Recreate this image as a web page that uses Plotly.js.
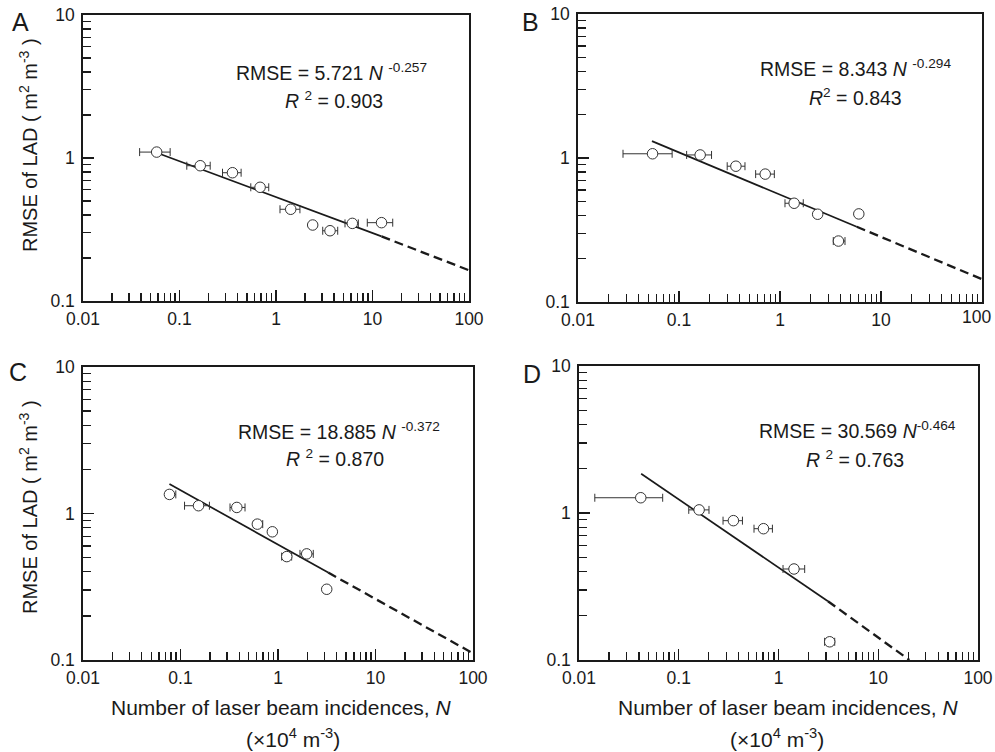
<!DOCTYPE html>
<html>
<head>
<meta charset="utf-8">
<script src="https://cdn.plot.ly/plotly-3.0.1.min.js"></script>
<style>html,body{margin:0;padding:0;background:#fff;}#chart{width:995px;height:752px;}</style>
</head>
<body>
<div id="chart"></div>
<script>
// ---- Panel A ----
var xA   = [0.058, 0.164, 0.354, 0.684, 1.42, 2.40, 3.63, 6.18, 12.4];
var yA   = [1.10, 0.883, 0.789, 0.624, 0.438, 0.340, 0.310, 0.349, 0.353];
var xloA = [0.0386, 0.119, 0.279, 0.548, 1.10, null, 3.05, 5.19, 8.83];
var xhiA = [0.080, 0.208, 0.435, 0.841, 1.77, null, 4.36, 7.13, 16.2];
var fitXA = [0.06, 12.4],  fitYA = [1.08, 0.283];
var extXA = [12.4, 100],   extYA = [0.283, 0.164];

// ---- Panel B ----
var xB   = [0.0547, 0.162, 0.366, 0.714, 1.38, 2.36, 3.79, 6.03];
var yB   = [1.07, 1.05, 0.877, 0.773, 0.485, 0.407, 0.265, 0.409];
var xloB = [0.0279, 0.119, 0.30, 0.574, 1.12, null, 3.37, null];
var xhiB = [0.0855, 0.210, 0.45, 0.879, 1.70, null, 4.40, null];
var fitXB = [0.054, 5.75], fitYB = [1.31, 0.333];
var extXB = [5.75, 100],   extYB = [0.333, 0.144];

// ---- Panel C ----
var xC   = [0.077, 0.153, 0.378, 0.614, 0.875, 1.23, 1.97, 3.16];
var yC   = [1.35, 1.13, 1.10, 0.846, 0.750, 0.508, 0.530, 0.304];
var xloC = [0.0708, 0.110, 0.322, 0.559, null, 1.09, 1.68, null];
var xhiC = [0.0895, 0.198, 0.459, 0.697, null, 1.38, 2.30, null];
var fitXC = [0.077, 3.27], fitYC = [1.59, 0.395];
var extXC = [3.27, 100],   extYC = [0.395, 0.111];

// ---- Panel D ----
var xD   = [0.0416, 0.160, 0.353, 0.707, 1.43, 3.26];
var yD   = [1.27, 1.05, 0.887, 0.782, 0.416, 0.133];
var xloD = [0.0144, 0.126, 0.278, 0.568, 1.11, 2.90];
var xhiD = [0.069, 0.201, 0.435, 0.869, 1.83, 3.66];
var fitXD = [0.042, 3.13], fitYD = [1.85, 0.251];
var extXD = [3.13, 20.5],  extYD = [0.251, 0.1];

// ---- Texts ----
var panelLabels = ['A', 'B', 'C', 'D'];
var eqTexts = [
  'RMSE = 5.721 <i>N</i> <sup>-0.257</sup>',
  'RMSE = 8.343 <i>N</i> <sup>-0.294</sup>',
  'RMSE = 18.885 <i>N</i> <sup>-0.372</sup>',
  'RMSE = 30.569 <i>N</i><sup>-0.464</sup>'
];
var r2Texts = [
  '<i>R</i> <sup>2</sup> = 0.903',
  '<i>R</i><sup>2</sup> = 0.843',
  '<i>R</i> <sup>2</sup> = 0.870',
  '<i>R</i> <sup>2</sup> = 0.763'
];
var yTitle = 'RMSE of LAD ( m<sup>2</sup> m<sup>-3</sup> )';
var xTitle1 = 'Number of laser beam incidences, <i>N</i>';
var xTitle2 = '(×10<sup>4</sup> m<sup>-3</sup>)';

var xTickVals = [0.01, 0.1, 1, 10, 100];
var xTickText = ['0.01', '0.1', '1', '10', '100'];
// panel B: its last label sits at the page edge, so it is drawn as a separate text
var xTickTextB = ['0.01', '0.1', '1', '10', ''];
var lastTickB = '100';
var yTickVals = [0.1, 1, 10];
var yTickText = ['0.1', '1', '10'];

var FONT = 'Liberation Sans, Arial, sans-serif';
var INK = '#1a1a1a';
var TICKSIZE = 17.5;

function minorVals(lo, hi) {
  var v = [];
  for (var d = lo; d < hi; d++) {
    for (var k = 2; k <= 9; k++) v.push(k * Math.pow(10, d));
  }
  return v;
}

function errPlus(x, hi) { return x.map(function (v, i) { return hi[i] == null ? NaN : hi[i] - v; }); }
function errMinus(x, lo) { return x.map(function (v, i) { return lo[i] == null ? NaN : v - lo[i]; }); }

function panelTraces(x, y, lo, hi, fx, fy, ex, ey, xa, ya) {
  return [
    {
      x: fx, y: fy, xaxis: xa, yaxis: ya, mode: 'lines', type: 'scatter',
      line: {color: INK, width: 1.7}, hoverinfo: 'skip'
    },
    {
      x: ex, y: ey, xaxis: xa, yaxis: ya, mode: 'lines', type: 'scatter',
      line: {color: INK, width: 2.3, dash: '9px,5px'}, hoverinfo: 'skip'
    },
    {
      x: x, y: y, xaxis: xa, yaxis: ya, mode: 'markers', type: 'scatter',
      marker: {symbol: 'circle', size: 10.5, color: '#ffffff', line: {color: '#333', width: 1}},
      error_x: {type: 'data', symmetric: false, array: errPlus(x, hi), arrayminus: errMinus(x, lo),
                color: '#333', thickness: 1, width: 4}
    }
  ];
}

var data = [].concat(
  panelTraces(xA, yA, xloA, xhiA, fitXA, fitYA, extXA, extYA, 'x', 'y'),
  panelTraces(xB, yB, xloB, xhiB, fitXB, fitYB, extXB, extYB, 'x2', 'y2'),
  panelTraces(xC, yC, xloC, xhiC, fitXC, fitYC, extXC, extYC, 'x3', 'y3'),
  panelTraces(xD, yD, xloD, xhiD, fitXD, fitYD, extXD, extYD, 'x4', 'y4')
);

function xAxis(domain, anchor, ticktext) {
  return {
    type: 'log', range: [-2, 2], domain: domain, anchor: anchor,
    showline: true, linecolor: INK, linewidth: 1.7, mirror: true,
    ticks: 'inside', ticklen: 11, tickwidth: 1.3, tickcolor: INK,
    tickmode: 'array', tickvals: xTickVals, ticktext: ticktext || xTickText,
    tickfont: {family: FONT, size: TICKSIZE, color: INK}, ticklabelstandoff: 1,
    showgrid: false, zeroline: false,
    minor: {tickmode: 'array', tickvals: minorVals(-2, 2), ticks: 'inside', ticklen: 8,
            tickwidth: 1.3, tickcolor: INK, showgrid: false}
  };
}
function yAxis(domain, anchor) {
  return {
    type: 'log', range: [-1, 1], domain: domain, anchor: anchor,
    showline: true, linecolor: INK, linewidth: 1.7, mirror: true,
    ticks: 'inside', ticklen: 11, tickwidth: 1.3, tickcolor: INK,
    tickmode: 'array', tickvals: yTickVals, ticktext: yTickText,
    tickfont: {family: FONT, size: TICKSIZE, color: INK}, ticklabelstandoff: 3,
    showgrid: false, zeroline: false,
    minor: {tickmode: 'array', tickvals: minorVals(-1, 1), ticks: 'inside', ticklen: 8,
            tickwidth: 1.3, tickcolor: INK, showgrid: false}
  };
}

var W = 995, H = 752;
function px(v) { return v / W; }
function py(v) { return 1 - v / H; }

function ann(text, x, y, size, extra) {
  var a = {text: text, x: px(x), y: py(y), xref: 'paper', yref: 'paper',
           showarrow: false, xanchor: 'center', yanchor: 'middle',
           font: {family: FONT, size: size, color: INK}};
  if (extra) for (var k in extra) a[k] = extra[k];
  return a;
}

var annotations = [
  ann(panelLabels[0], 20, 22, 25),
  ann(panelLabels[1], 530, 22, 25),
  ann(panelLabels[2], 18, 372, 25),
  ann(panelLabels[3], 532, 374, 25),
  ann(eqTexts[0], 331, 72, 19.5),
  ann(r2Texts[0], 334, 100, 19.5),
  ann(eqTexts[1], 855, 68, 19.5),
  ann(r2Texts[1], 855, 97, 19.5),
  ann(eqTexts[2], 339, 431, 19.5),
  ann(r2Texts[2], 335, 458, 19.5),
  ann(eqTexts[3], 857, 430, 19.5),
  ann(r2Texts[3], 855, 459, 19.5),
  ann(yTitle, 28, 145, 20, {textangle: -90}),
  ann(yTitle, 28, 507, 20, {textangle: -90}),
  ann(xTitle1, 281, 707, 21),
  ann(xTitle2, 293, 738, 21),
  ann(xTitle1, 788, 707, 21),
  ann(xTitle2, 777, 738, 21),
  ann(lastTickB, 976, 317, TICKSIZE)
];

var layout = {
  width: W, height: H,
  margin: {l: 0, r: 0, t: 0, b: 0},
  paper_bgcolor: '#ffffff', plot_bgcolor: '#ffffff',
  showlegend: false,
  font: {family: FONT, color: INK},
  xaxis:  xAxis([px(83), px(469)], 'y'),
  yaxis:  yAxis([py(301), py(15)], 'x'),
  xaxis2: xAxis([px(578), px(982)], 'y2', xTickTextB),
  yaxis2: yAxis([py(302), py(14)], 'x2'),
  xaxis3: xAxis([px(83), px(473)], 'y3'),
  yaxis3: yAxis([py(660), py(367)], 'x3'),
  xaxis4: xAxis([px(579), px(978)], 'y4'),
  yaxis4: yAxis([py(660), py(366)], 'x4'),
  annotations: annotations
};

Plotly.newPlot('chart', data, layout, {displayModeBar: false, staticPlot: true});
</script>
</body>
</html>
